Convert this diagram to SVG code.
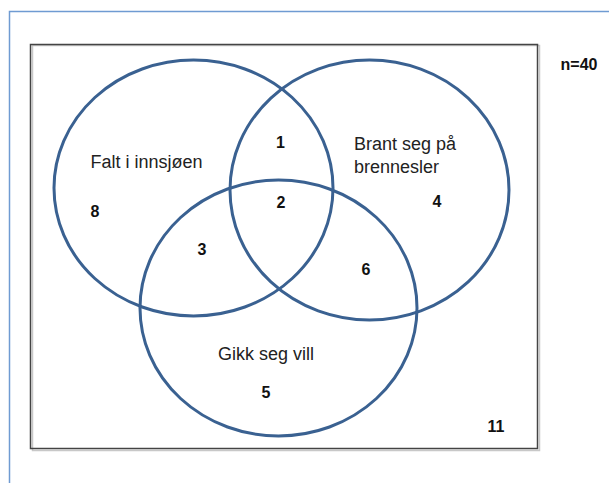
<svg xmlns="http://www.w3.org/2000/svg" width="609" height="483" viewBox="0 0 609 483">
<style>
.set{fill:none;stroke:#3a6191;stroke-width:3}
.lbl{font-family:"Liberation Sans",Arial,sans-serif;font-size:18px;fill:#222}
.num{font-family:"Liberation Sans",Arial,sans-serif;font-size:16px;font-weight:bold;fill:#111;text-anchor:middle}
</style>
<rect width="609" height="483" fill="#fff"/>
<path d="M9.5,483 V11.5 H609" fill="none" stroke="#6f9bd2" stroke-width="1.5"/>
<rect x="31.5" y="44.5" width="507" height="405" fill="none" stroke="#c8c8c8" stroke-width="1.5" transform="translate(1,1)"/>
<rect x="30.5" y="44.5" width="507" height="404" fill="none" stroke="#444" stroke-width="1.5"/>
<g id="falt">
<ellipse class="set" cx="193.5" cy="188" rx="139.5" ry="128"/>
<text class="lbl" x="90.5" y="168">Falt i innsjøen</text>
</g>
<g id="brant">
<ellipse class="set" cx="369.5" cy="190" rx="139.5" ry="130"/>
<text class="lbl" x="354" y="150">Brant seg på</text>
<text class="lbl" x="354" y="172.5">brennesler</text>
</g>
<g id="gikk">
<ellipse class="set" cx="278.5" cy="308" rx="138.5" ry="128"/>
<text class="lbl" x="218" y="360">Gikk seg vill</text>
</g>
<g id="counts">
<text class="num" x="95" y="217">8</text>
<text class="num" x="280.5" y="148">1</text>
<text class="num" x="281" y="208">2</text>
<text class="num" x="202" y="255">3</text>
<text class="num" x="437" y="207">4</text>
<text class="num" x="366" y="275">6</text>
<text class="num" x="266" y="398">5</text>
<text class="num" x="496" y="432">11</text>
<text class="num" x="579" y="70">n=40</text>
</g>
</svg>
